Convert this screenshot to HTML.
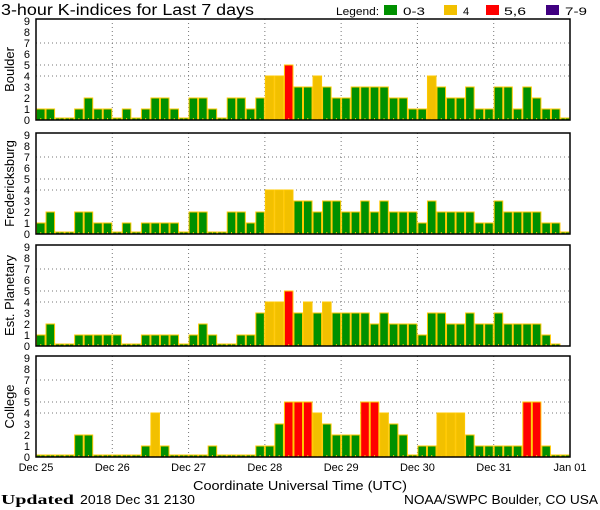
<!DOCTYPE html>
<html><head><meta charset="utf-8"><style>
html,body{margin:0;padding:0;background:#fff;}
svg{display:block;font-family:"Liberation Sans",sans-serif;}
</style></head><body>
<svg id="s" width="600" height="510" viewBox="0 0 600 510" xmlns="http://www.w3.org/2000/svg">
<text x="1" y="15" font-size="15.5" fill="#000" textLength="253" lengthAdjust="spacingAndGlyphs">3-hour K-indices for Last 7 days</text>
<text x="336" y="15" font-size="11" fill="#000" textLength="43" lengthAdjust="spacingAndGlyphs">Legend:</text>
<rect x="384" y="5" width="13" height="10" fill="#009000"/><text x="403" y="15" font-size="11" textLength="22" lengthAdjust="spacingAndGlyphs">0-3</text>
<rect x="444" y="5" width="13" height="10" fill="#f2c000"/><text x="463" y="15" font-size="11">4</text>
<rect x="486" y="5" width="13" height="10" fill="#ff0000"/><text x="504" y="15" font-size="11" textLength="22" lengthAdjust="spacingAndGlyphs">5,6</text>
<rect x="546" y="5" width="13" height="10" fill="#400080"/><text x="565" y="15" font-size="11" textLength="22" lengthAdjust="spacingAndGlyphs">7-9</text>
<g id="g"></g>
<text x="193" y="490" font-size="13" textLength="214" lengthAdjust="spacingAndGlyphs">Coordinate Universal Time (UTC)</text>
<text x="1" y="504" font-size="14" font-family="Liberation Serif,serif" font-weight="bold" textLength="73" lengthAdjust="spacingAndGlyphs">Updated</text>
<text x="80" y="504" font-size="13" textLength="115" lengthAdjust="spacingAndGlyphs">2018 Dec 31 2130</text>
<text x="404" y="504" font-size="13" textLength="194" lengthAdjust="spacingAndGlyphs">NOAA/SWPC Boulder, CO USA</text>
</svg>
<script>
var data=[
["Boulder",[1,1,0,0,1,2,1,1, 0,1,0,1,2,2,1,0, 2,2,1,0,2,2,1,2, 4,4,5,3,3,4,3,2, 2,3,3,3,3,2,2,1, 1,4,3,2,2,3,1,1, 3,3,1,3,2,1,1,0]],
["Fredericksburg",[1,2,0,0,2,2,1,1, 0,1,0,1,1,1,1,0, 2,2,0,0,2,2,1,2, 4,4,4,3,3,2,3,3, 2,2,3,2,3,2,2,2, 1,3,2,2,2,2,1,1, 3,2,2,2,2,1,1,0]],
["Est. Planetary",[1,2,0,0,1,1,1,1, 1,0,0,1,1,1,1,0, 1,2,1,0,0,1,1,3, 4,4,5,3,4,3,4,3, 3,3,3,2,3,2,2,2, 1,3,3,2,2,3,2,2, 3,2,2,2,2,1,0,-1]],
["College",[0,0,0,0,2,2,0,0, 0,0,0,1,4,1,0,0, 0,0,1,0,0,0,0,1, 1,3,5,5,5,4,3,2, 2,2,5,5,4,3,2,0, 1,1,4,4,4,2,1,1, 1,1,1,5,5,1,0,0]]
];
var bottoms=[120,234,346,457];
var x0=36,x1=570,W=x1-x0,bw=W/56,u=11;
var h='';
data.forEach(function(p,i){
 var b=bottoms[i],t=b-101;
 [4,5,7].forEach(function(l){h+='<line x1="'+x0+'" x2="'+x1+'" y1="'+(b-l*u)+'" y2="'+(b-l*u)+'" stroke="#777" stroke-dasharray="1,3"/>';});
 for(var d=1;d<7;d++){var x=x0+d*W/7;h+='<line x1="'+x+'" x2="'+x+'" y1="'+t+'" y2="'+b+'" stroke="#777" stroke-dasharray="1,3"/>';}
 p[1].forEach(function(v,k){
  var x=x0+k*bw;
  if(v<0)return;
  var c=v<=3?'#009000':v==4?'#f2c000':v<=6?'#ff0000':'#400080';
  var hh=v==0?2:v*u;
  h+='<rect x="'+(x+0.5).toFixed(2)+'" y="'+(b-hh)+'" width="'+(bw-1).toFixed(2)+'" height="'+hh+'" fill="'+c+'" stroke="#ffc800" stroke-width="1"/>';
  h+='<rect x="'+(x+bw/2-0.5).toFixed(2)+'" y="'+(b-2)+'" width="1" height="2" fill="#ffc800"/>';
 });
 h+='<rect x="'+x0+'" y="'+t+'" width="'+W+'" height="'+(b-t)+'" fill="none" stroke="#000" stroke-width="1.5"/>';
 for(var l=0;l<=9;l++){h+='<text x="30" y="'+(b-l*u+4)+'" font-size="11" text-anchor="end">'+l+'</text>';}
 var cy=(t+b)/2;
 h+='<text x="14" y="'+cy+'" font-size="13" text-anchor="middle" transform="rotate(-90 14 '+cy+')">'+p[0]+'</text>';
});
var labs=["Dec 25","Dec 26","Dec 27","Dec 28","Dec 29","Dec 30","Dec 31","Jan 01"];
labs.forEach(function(s,d){h+='<text x="'+(x0+d*W/7)+'" y="471" font-size="11" text-anchor="middle">'+s+'</text>';});
document.getElementById('g').innerHTML=h;
</script>
</body></html>
